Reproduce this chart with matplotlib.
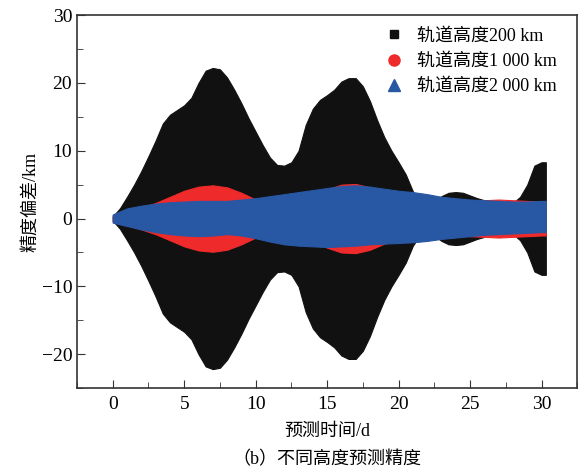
import matplotlib
matplotlib.use('Agg')
import matplotlib.pyplot as plt
from matplotlib.lines import Line2D
from matplotlib.ticker import MultipleLocator

plt.rcParams['font.family'] = ['Liberation Serif', 'Noto Sans CJK SC']

# 200 km: 包络线 (对称), 每半天读一次
t_200 = [0, 0.5, 1, 1.5, 2, 2.5, 3, 3.5, 4, 4.5, 5, 5.5, 6, 6.5, 7, 7.5, 8, 8.5,
         9, 9.5, 10, 10.5, 11, 11.5, 12, 12.5, 13, 13.5, 14, 14.5, 15, 15.5, 16,
         16.5, 17, 17.5, 18, 18.5, 19, 19.5, 20, 20.5, 21, 21.5, 22, 22.5, 23,
         23.5, 24, 24.5, 25, 25.5, 26, 26.5, 27, 27.5, 28, 28.5, 29, 29.5, 30, 30.3]
amp_200 = [0.3, 1.5, 3.2, 5.0, 7.0, 9.2, 11.5, 14.0, 15.3, 16.0, 16.7, 17.8, 20.0,
           21.8, 22.2, 22.0, 20.8, 19.0, 17.0, 14.8, 12.8, 10.8, 9.0, 7.9, 7.8,
           8.3, 10.0, 13.8, 16.2, 17.5, 18.2, 19.0, 20.2, 20.7, 20.7, 19.5, 17.3,
           14.5, 12.0, 10.0, 8.3, 6.5, 4.0, 2.4, 2.0, 2.5, 3.3, 3.8, 3.9, 3.8, 3.4,
           3.0, 2.7, 2.4, 2.1, 2.0, 2.3, 3.2, 5.0, 7.8, 8.3, 8.3]

# 1 000 km 与 2 000 km: 每天读一次
t_day = [0, 1, 2, 3, 4, 5, 6, 7, 8, 9, 10, 11, 12, 13, 14, 15, 16, 17, 18, 19,
         20, 21, 22, 23, 24, 25, 26, 27, 28, 29, 30, 30.3]
amp_1000 = [0.5, 1.0, 1.6, 2.3, 3.2, 4.1, 4.7, 4.9, 4.6, 3.8, 2.8, 2.0, 1.8, 2.3,
            3.3, 4.3, 5.0, 5.1, 4.6, 3.7, 2.8, 2.2, 2.0, 2.1, 2.4, 2.6, 2.7, 2.8,
            2.7, 2.6, 2.5, 2.5]
up_2000 = [0.6, 1.5, 1.9, 2.2, 2.4, 2.5, 2.6, 2.6, 2.6, 2.8, 3.0, 3.3, 3.6, 3.9,
           4.2, 4.5, 4.8, 4.9, 4.7, 4.4, 4.1, 3.9, 3.6, 3.2, 3.0, 2.8, 2.7, 2.6,
           2.5, 2.5, 2.6, 2.6]
low_2000 = [-0.6, -1.1, -1.6, -2.0, -2.3, -2.5, -2.6, -2.5, -2.3, -2.5, -2.9,
            -3.4, -3.8, -4.0, -4.1, -4.2, -4.1, -4.0, -3.8, -3.7, -3.6, -3.5,
            -3.3, -3.0, -2.8, -2.6, -2.4, -2.3, -2.2, -2.1, -2.0, -2.0]

black = '#111111'
red = '#ee2a2a'
blue = '#2857a4'

fig = plt.figure(figsize=(5.79, 4.71), dpi=100)
ax = fig.add_axes([0.133, 0.176, 0.864, 0.792])

ax.fill_between(t_200, [-a for a in amp_200], amp_200, color=black, lw=0.8)
ax.fill_between(t_day, [-a for a in amp_1000], amp_1000, color=red, lw=0.8)
ax.fill_between(t_day, low_2000, up_2000, color=blue, lw=0.8)

ax.set_xlim(-2.5, 32.5)
ax.set_ylim(-25, 30)
ax.xaxis.set_major_locator(MultipleLocator(5))
ax.xaxis.set_minor_locator(MultipleLocator(2.5))
ax.yaxis.set_major_locator(MultipleLocator(10))
ax.yaxis.set_minor_locator(MultipleLocator(5))
ax.tick_params(which='both', direction='in', labelsize=14, color='#333333')
ax.tick_params(which='major', length=6)
ax.tick_params(which='minor', length=4)
ax.tick_params(axis='x', pad=6)
ax.set_yticks([-20, -10, 0, 10, 20, 30])
ax.set_yticklabels(['\u221220', '\u221210', '0', '10', '20', '30'])
for s in ax.spines.values():
    s.set_color('#333333')
    s.set_linewidth(1.2)

ax.set_xlabel('预测时间/d', fontsize=13, labelpad=7)
ax.set_ylabel('精度偏差/km', fontsize=13, labelpad=2)

handles = [
    Line2D([], [], ls='none', marker='s', ms=6, color=black),
    Line2D([], [], ls='none', marker='o', ms=8, color=red),
    Line2D([], [], ls='none', marker='^', ms=9, color=blue),
]
labels = ['轨道高度200 km', '轨道高度1 000 km', '轨道高度2 000 km']
ax.legend(handles, labels, loc='upper right', frameon=False, fontsize=13,
          handletextpad=0.3, labelspacing=0.45, borderaxespad=0.3,
          bbox_to_anchor=(0.985, 1.0))

fig.text(0.565, 0.006, '（b）不同高度预测精度', ha='center', va='bottom', fontsize=13)

fig.savefig('out.png', dpi=100)
